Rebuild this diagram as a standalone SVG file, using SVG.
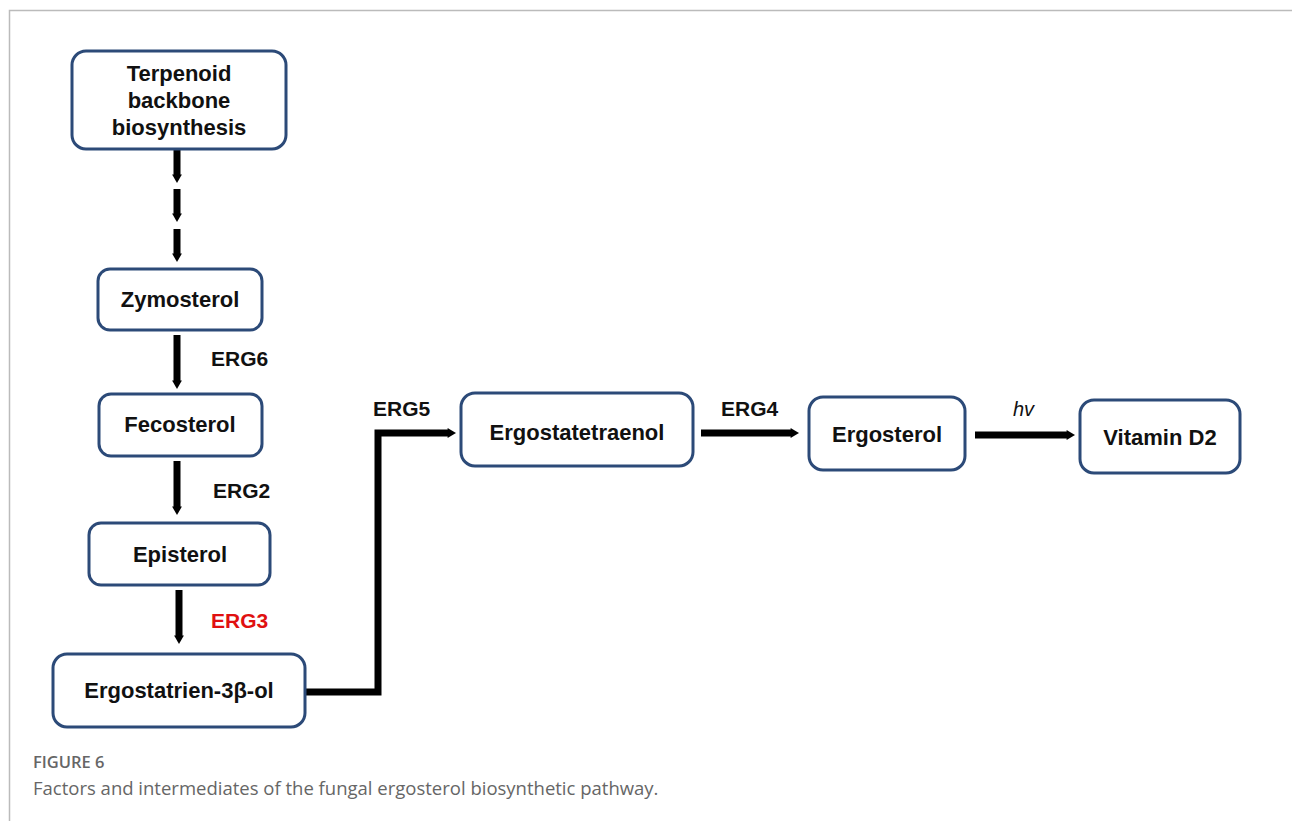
<svg xmlns="http://www.w3.org/2000/svg" width="1292" height="821" viewBox="0 0 1292 821">
<style>
.box{fill:#fff;stroke:#2c4a78;stroke-width:3}
.t{font-family:"Liberation Sans",Arial,sans-serif;font-weight:bold;font-size:22px;fill:#111;text-anchor:middle}
.lbl{font-family:"Liberation Sans",Arial,sans-serif;font-weight:bold;font-size:21px;fill:#111}
.ar{fill:none;stroke:#000;stroke-width:7}
.cap1{font-family:"Open Sans","Liberation Sans",sans-serif;font-weight:600;font-size:16.5px;fill:#666}
.cap2{font-family:"Open Sans","Liberation Sans",sans-serif;font-size:18.5px;fill:#666}
</style>
<defs>
<marker id="ah" markerWidth="3" markerHeight="3" refX="0.2" refY="1" orient="auto" markerUnits="strokeWidth" overflow="visible">
<path d="M0,0.3 L1.2,1 L0,1.7 z" fill="#000"/>
</marker>
</defs>
<rect width="1292" height="821" fill="#fff"/>
<path d="M9.5,821 V10.5 H1292" fill="none" stroke="#bbb" stroke-width="1.5"/>

<g id="connectors">
<line class="ar" x1="177" y1="150" x2="177" y2="176" marker-end="url(#ah)"/>
<line class="ar" x1="177" y1="189" x2="177" y2="215" marker-end="url(#ah)"/>
<line class="ar" x1="177" y1="229" x2="177" y2="255" marker-end="url(#ah)"/>
<line class="ar" x1="177" y1="335" x2="177" y2="382" marker-end="url(#ah)"/>
<line class="ar" x1="177" y1="461" x2="177" y2="508" marker-end="url(#ah)"/>
<line class="ar" x1="179" y1="590" x2="179" y2="637" marker-end="url(#ah)"/>
<polyline class="ar" points="303,692 378,692 378,433 449,433" marker-end="url(#ah)"/>
<line class="ar" x1="701" y1="433" x2="792" y2="433" marker-end="url(#ah)"/>
<line class="ar" x1="975" y1="435" x2="1068" y2="435" marker-end="url(#ah)"/>
</g>

<g id="labels">
<text class="lbl" x="211" y="366">ERG6</text>
<text class="lbl" x="213" y="498">ERG2</text>
<text class="lbl" x="211" y="628" style="fill:#e01010">ERG3</text>
<text class="lbl" x="373" y="416">ERG5</text>
<text class="lbl" x="721" y="416">ERG4</text>
<text x="1013" y="416" font-family="'Liberation Sans',Arial,sans-serif" font-style="italic" font-size="20" fill="#111">hv</text>
</g>

<g id="terpenoid">
<rect class="box" x="72" y="51" width="214" height="98" rx="14"/>
<text class="t" x="179" y="81">Terpenoid</text>
<text class="t" x="179" y="108">backbone</text>
<text class="t" x="179" y="135">biosynthesis</text>
</g>
<g id="zymosterol">
<rect class="box" x="98" y="269" width="164" height="61" rx="12"/>
<text class="t" x="180" y="307">Zymosterol</text>
</g>
<g id="fecosterol">
<rect class="box" x="99" y="394" width="163" height="62" rx="12"/>
<text class="t" x="180" y="432">Fecosterol</text>
</g>
<g id="episterol">
<rect class="box" x="89" y="523" width="181" height="62" rx="12"/>
<text class="t" x="180" y="562">Episterol</text>
</g>
<g id="ergostatrienol">
<rect class="box" x="53" y="654" width="252" height="73" rx="14"/>
<text class="t" x="179" y="698">Ergostatrien-3β-ol</text>
</g>
<g id="ergostatetraenol">
<rect class="box" x="461" y="393" width="232" height="73" rx="14"/>
<text class="t" x="577" y="440">Ergostatetraenol</text>
</g>
<g id="ergosterol">
<rect class="box" x="809" y="397" width="156" height="73" rx="14"/>
<text class="t" x="887" y="442">Ergosterol</text>
</g>
<g id="vitamind2">
<rect class="box" x="1080" y="400" width="160" height="73" rx="14"/>
<text class="t" x="1160" y="445">Vitamin D2</text>
</g>

<text class="cap1" x="33" y="768">FIGURE 6</text>
<text class="cap2" x="33" y="795">Factors and intermediates of the fungal ergosterol biosynthetic pathway.</text>
</svg>
